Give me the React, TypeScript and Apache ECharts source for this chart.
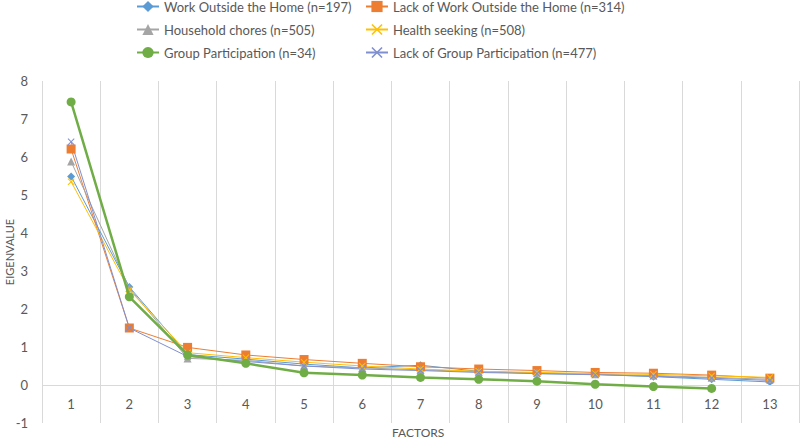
import React, { useEffect, useRef } from "react";
import * as echarts from "echarts";

const factors = ["1", "2", "3", "4", "5", "6", "7", "8", "9", "10", "11", "12", "13"];
const workOutside = [5.49, 2.58, 0.8, 0.68, 0.55, 0.45, 0.52, 0.36, 0.3, 0.28, 0.22, 0.15, 0.08];
const lackWork = [6.21, 1.5, 0.99, 0.79, 0.67, 0.57, 0.48, 0.42, 0.38, 0.33, 0.31, 0.26, 0.18];
const household = [5.88, 2.55, 0.7, 0.65, 0.5, 0.45, 0.4, 0.35, 0.32, 0.28, 0.25, 0.2, 0.15];
const healthSeeking = [5.35, 2.5, 0.85, 0.72, 0.6, 0.5, 0.42, 0.36, 0.33, 0.3, 0.28, 0.24, 0.2];
const groupPart = [7.45, 2.32, 0.79, 0.57, 0.32, 0.26, 0.2, 0.15, 0.1, 0.02, -0.04, -0.09, null];
const lackGroup = [6.4, 1.5, 0.75, 0.62, 0.5, 0.42, 0.38, 0.33, 0.3, 0.27, 0.23, 0.18, 0.12];

const names = [
  "Work Outside the Home (n=197)",
  "Lack of Work Outside the Home (n=314)",
  "Household chores (n=505)",
  "Health seeking (n=508)",
  "Group Participation (n=34)",
  "Lack of Group Participation (n=477)",
];

const X_SYMBOL = "path://M0,1L1,0L5,4L9,0L10,1L6,5L10,9L9,10L5,6L1,10L0,9L4,5Z";

export default function App() {
  const ref = useRef<HTMLDivElement>(null);
  useEffect(() => {
    if (!ref.current) return;
    const chart = echarts.init(ref.current, undefined, { renderer: "svg" });
    const font = "Lato, 'Open Sans', sans-serif";
    const thin = (name: string, data: any[], color: string, symbol: string, size: number) => ({
      name,
      type: "line",
      data,
      symbol,
      symbolSize: size,
      showSymbol: true,
      lineStyle: { color, width: 1 },
      itemStyle: { color },
      z: 2,
    });
    const legendCommon = {
      orient: "vertical",
      top: 0,
      padding: 0,
      itemGap: 10,
      itemWidth: 22,
      itemHeight: 14,
      textStyle: { color: "#595959", fontSize: 13, fontFamily: font },
    };
    const first: any = thin(names[0], workOutside, "#5B9BD5", "diamond", 8);
    first.markLine = {
      silent: true,
      symbol: "none",
      label: { show: false },
      lineStyle: { color: "#d9d9d9", type: "solid", width: 1 },
      data: [{ yAxis: 0 }],
    };
    chart.setOption({
      animation: false,
      legend: [
        { ...legendCommon, left: 136, data: [names[0], names[2], names[4]] },
        { ...legendCommon, left: 365, data: [names[1], names[3], names[5]] },
      ],
      grid: { left: 42, right: 1, top: 81, bottom: 16, outerBoundsMode: "none", containLabel: false },
      xAxis: {
        type: "category",
        data: factors,
        boundaryGap: true,
        axisLine: { show: false, onZero: false },
        axisTick: { show: false },
        axisLabel: { color: "#595959", fontSize: 13, fontFamily: font, margin: -26 },
        splitLine: { show: true, lineStyle: { color: "#d9d9d9" } },
      },
      yAxis: {
        type: "value",
        min: -1,
        max: 8,
        interval: 1,
        name: "EIGENVALUE",
        nameLocation: "middle",
        nameGap: 27,
        nameMoveOverlap: false,
        nameTextStyle: { color: "#595959", fontSize: 11, fontFamily: font },
        axisLine: { show: false },
        axisTick: { show: false },
        axisLabel: { color: "#595959", fontSize: 13, fontFamily: font, margin: 14 },
        splitLine: { show: false },
      },
      graphic: [
        {
          type: "text",
          left: 392,
          top: 426,
          style: { text: "FACTORS", fill: "#595959", fontSize: 12, fontFamily: font },
        },
      ],
      series: [
        first,
        thin(names[1], lackWork, "#ED7D31", "rect", 9),
        thin(names[2], household, "#A5A5A5", "triangle", 8),
        thin(names[3], healthSeeking, "#FFC000", X_SYMBOL, 7),
        {
          name: names[4],
          type: "line",
          data: groupPart,
          symbol: "circle",
          symbolSize: 9,
          lineStyle: { color: "#70AD47", width: 2.5 },
          itemStyle: { color: "#70AD47" },
          z: 5,
        },
        thin(names[5], lackGroup, "#7F8FCF", X_SYMBOL, 7),
      ],
    });
    return () => chart.dispose();
  }, []);
  return <div ref={ref} style={{ width: 800, height: 439, position: "absolute", left: 0, top: 0 }} />;
}
